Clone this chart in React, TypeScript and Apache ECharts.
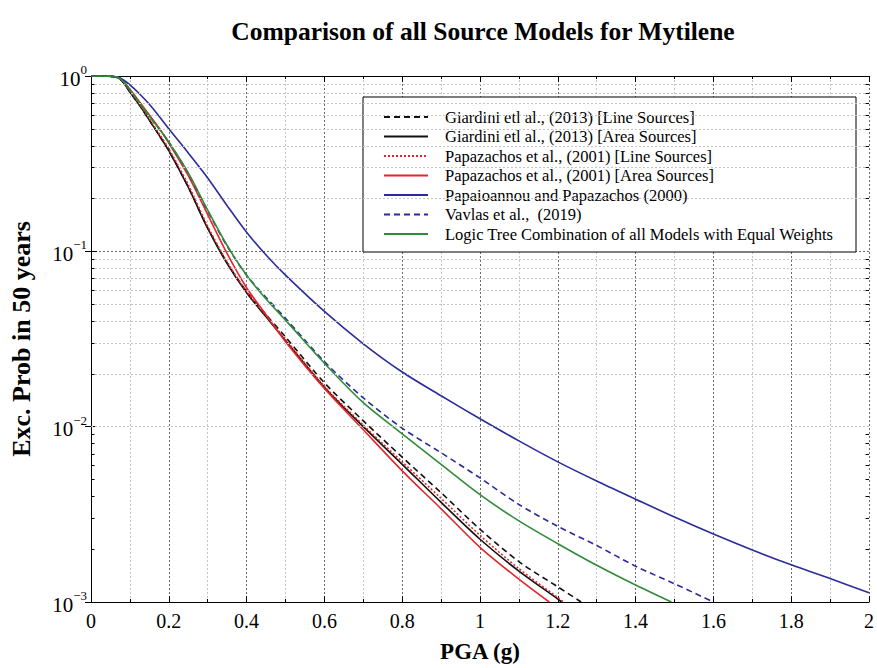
import React, { useEffect, useRef } from "react";
import * as echarts from "echarts";

const TITLE = "Comparison of all Source Models for Mytilene";
const X_NAME = "PGA (g)";
const Y_NAME = "Exc. Prob in 50 years";

const seriesNames = [
  "Giardini etl al., (2013) [Line Sources]",
  "Giardini etl al., (2013) [Area Sources]",
  "Papazachos et al., (2001) [Line Sources]",
  "Papazachos et al., (2001) [Area Sources]",
  "Papaioannou and Papazachos (2000)",
  "Vavlas et al.,  (2019)",
  "Logic Tree Combination of all Models with Equal Weights",
];

// Giardini line sources (black dashed)
const giardiniLinePga = [0, 0.05, 0.075, 0.1, 0.125, 0.15, 0.175, 0.2, 0.25, 0.3, 0.35, 0.4, 0.45, 0.5, 0.6, 0.7, 0.8, 0.9, 1.0, 1.1, 1.2, 1.26];
const giardiniLineProb = [1, 0.995, 0.96, 0.81, 0.68, 0.56, 0.46, 0.376, 0.233, 0.136, 0.086, 0.059, 0.0435, 0.0325, 0.0178, 0.0108, 0.0067, 0.0042, 0.0026, 0.0017, 0.00122, 0.001];

// Giardini area sources (black solid)
const giardiniAreaPga = [0, 0.05, 0.075, 0.1, 0.125, 0.15, 0.175, 0.2, 0.25, 0.3, 0.35, 0.4, 0.45, 0.5, 0.6, 0.7, 0.8, 0.9, 1.0, 1.1, 1.2, 1.21];
const giardiniAreaProb = [1, 0.995, 0.96, 0.81, 0.68, 0.56, 0.46, 0.375, 0.232, 0.135, 0.085, 0.058, 0.0423, 0.031, 0.0168, 0.01, 0.0061, 0.0037, 0.00228, 0.0015, 0.00104, 0.001];

// Papazachos line sources (red dotted)
const papazachosLinePga = [0, 0.05, 0.075, 0.1, 0.125, 0.15, 0.175, 0.2, 0.25, 0.3, 0.35, 0.4, 0.45, 0.5, 0.6, 0.7, 0.8, 0.9, 1.0, 1.1, 1.2, 1.215];
const papazachosLineProb = [1, 0.995, 0.965, 0.82, 0.69, 0.57, 0.47, 0.385, 0.24, 0.139, 0.087, 0.059, 0.043, 0.0315, 0.017, 0.0102, 0.0063, 0.0039, 0.0024, 0.00155, 0.00106, 0.001];

// Papazachos area sources (red solid)
const papazachosAreaPga = [0, 0.05, 0.075, 0.1, 0.125, 0.15, 0.175, 0.2, 0.25, 0.3, 0.35, 0.4, 0.45, 0.5, 0.6, 0.7, 0.8, 0.9, 1.0, 1.1, 1.178];
const papazachosAreaProb = [1, 0.996, 0.97, 0.84, 0.71, 0.6, 0.505, 0.415, 0.27, 0.162, 0.097, 0.062, 0.0435, 0.0305, 0.0165, 0.0096, 0.0056, 0.0034, 0.00205, 0.00135, 0.001];

// Papaioannou and Papazachos (blue solid)
const papaioannouPga = [0, 0.05, 0.075, 0.1, 0.125, 0.15, 0.175, 0.2, 0.25, 0.3, 0.35, 0.4, 0.45, 0.5, 0.6, 0.7, 0.8, 0.9, 1.0, 1.1, 1.2, 1.3, 1.4, 1.5, 1.6, 1.7, 1.8, 1.9, 2.0];
const papaioannouProb = [1, 0.997, 0.975, 0.89, 0.79, 0.69, 0.59, 0.5, 0.364, 0.262, 0.182, 0.1285, 0.0953, 0.0731, 0.0454, 0.0297, 0.0205, 0.015, 0.0111, 0.0083, 0.0063, 0.0049, 0.00386, 0.00305, 0.00244, 0.00198, 0.00163, 0.00136, 0.00113];

// Vavlas et al. (blue dashed)
const vavlasPga = [0, 0.05, 0.075, 0.1, 0.125, 0.15, 0.175, 0.2, 0.25, 0.3, 0.35, 0.4, 0.45, 0.5, 0.6, 0.7, 0.8, 0.9, 1.0, 1.1, 1.2, 1.3, 1.4, 1.5, 1.6];
const vavlasProb = [1, 0.996, 0.965, 0.83, 0.7, 0.59, 0.5, 0.42, 0.278, 0.17, 0.107, 0.073, 0.0545, 0.0415, 0.0235, 0.0146, 0.0098, 0.0071, 0.0051, 0.0036, 0.0027, 0.0021, 0.0016, 0.00127, 0.001];

// Logic tree (green)
const logicTreePga = [0, 0.05, 0.075, 0.1, 0.125, 0.15, 0.175, 0.2, 0.25, 0.3, 0.35, 0.4, 0.45, 0.5, 0.6, 0.7, 0.8, 0.9, 1.0, 1.1, 1.2, 1.3, 1.4, 1.492];
const logicTreeProb = [1, 0.996, 0.965, 0.83, 0.7, 0.59, 0.5, 0.42, 0.28, 0.172, 0.108, 0.073, 0.0535, 0.0405, 0.023, 0.0137, 0.0091, 0.0061, 0.0041, 0.0029, 0.00215, 0.00162, 0.00125, 0.001];

const minorProbTicks = [
  0.002, 0.003, 0.004, 0.005, 0.006, 0.007, 0.008, 0.009,
  0.02, 0.03, 0.04, 0.05, 0.06, 0.07, 0.08, 0.09,
  0.2, 0.3, 0.4, 0.5, 0.6, 0.7, 0.8, 0.9,
];

const FONT = "'Liberation Serif', 'Times New Roman', serif";
const BLACK = "#111111";
const RED = "#e3262b";
const BLUE = "#2b2b9b";
const GREEN = "#2f8c37";

const pairs = (xs: number[], ys: number[]) => xs.map((x, i) => [x, ys[i]]);

export default function App() {
  const ref = useRef<HTMLDivElement>(null);

  useEffect(() => {
    if (!ref.current) return;
    const chart = echarts.init(ref.current, undefined, { renderer: "svg" });

    const mkLine = (name: string, data: number[][], color: string, type: any) => ({
      name,
      type: "line",
      data,
      symbol: "none",
      smooth: 0.3,
      lineStyle: { color, width: 1.6, type },
      itemStyle: { color },
      z: 3,
    });

    const xAxisBase = {
      type: "value",
      min: 0,
      max: 2,
      interval: 0.2,
      axisLine: { show: true, lineStyle: { color: "#000", width: 1 } },
      axisTick: { show: true, inside: true, length: 6, lineStyle: { color: "#000" } },
      minorTick: { show: true, splitNumber: 2, length: 3, lineStyle: { color: "#000" } },
    };

    const yAxisBase = {
      type: "log",
      logBase: 10,
      min: 0.001,
      max: 1,
      axisLine: { show: true, lineStyle: { color: "#000", width: 1 } },
      axisTick: { show: true, inside: true, length: 6, lineStyle: { color: "#000" } },
    };

    const option: any = {
      animation: false,
      backgroundColor: "#fff",
      grid: { left: 90, right: 5, top: 76, bottom: 66, containLabel: false },
      graphic: [
        {
          type: "text",
          x: 483,
          y: 31,
          style: {
            text: TITLE,
            fontFamily: FONT,
            fontWeight: "bold",
            fontSize: 25.5,
            fill: "#000",
            textAlign: "center",
            textVerticalAlign: "middle",
          },
        },
        {
          type: "rect",
          z: 3,
          shape: { x: 363, y: 97, width: 493, height: 155 },
          style: { fill: "#fff", stroke: "#000", lineWidth: 1 },
        },
      ],
      legend: {
        data: seriesNames,
        orient: "vertical",
        left: 383,
        top: 108.5,
        padding: 0,
        itemWidth: 44,
        itemHeight: 14,
        itemGap: 2.5,
        selectedMode: false,
        z: 5,
        itemStyle: { color: "transparent", borderColor: "transparent", borderWidth: 0 },
        textStyle: {
          fontFamily: FONT,
          fontSize: 16.5,
          color: "#000",
          padding: [0, 0, 0, 12],
        },
      },
      xAxis: [
        {
          ...xAxisBase,
          position: "bottom",
          name: X_NAME,
          nameLocation: "middle",
          nameGap: 38,
          nameTextStyle: { fontFamily: FONT, fontWeight: "bold", fontSize: 23, color: "#000" },
          axisLabel: { fontFamily: FONT, fontSize: 20, color: "#000", margin: 9 },
          splitLine: { show: true, lineStyle: { color: "#6a6a6a", type: [2, 2], width: 1 } },
          minorSplitLine: { show: true, lineStyle: { color: "#c4c4c4", type: [2, 2], width: 1 } },
        },
        {
          ...xAxisBase,
          position: "top",
          axisLabel: { show: false },
          splitLine: { show: false },
        },
      ],
      yAxis: [
        {
          ...yAxisBase,
          position: "left",
          name: Y_NAME,
          nameLocation: "middle",
          nameGap: 57,
          nameTextStyle: { fontFamily: FONT, fontWeight: "bold", fontSize: 26, color: "#000" },
          axisLabel: {
            margin: 4,
            formatter: (v: number) => {
              const e = Math.round(Math.log10(v));
              const s = e === 0 ? "0" : "\u2212" + Math.abs(e);
              return `{b|10}{s|${s}}`;
            },
            rich: {
              b: { fontFamily: FONT, fontSize: 21, color: "#000", lineHeight: 26, verticalAlign: "bottom" },
              s: { fontFamily: FONT, fontSize: 13, color: "#000", lineHeight: 13, verticalAlign: "top" },
            },
          },
          splitLine: { show: true, lineStyle: { color: "#6a6a6a", type: [2, 2], width: 1 } },
        },
        {
          ...yAxisBase,
          position: "right",
          axisLabel: { show: false },
          splitLine: { show: false },
        },
      ],
      series: [
        {
          name: "_minorGrid",
          type: "line",
          data: [[0, 1]],
          symbol: "none",
          silent: true,
          lineStyle: { opacity: 0 },
          z: 1,
          markLine: {
            silent: true,
            symbol: "none",
            animation: false,
            label: { show: false },
            lineStyle: { color: "#c4c4c4", type: [2, 2], width: 1 },
            data: minorProbTicks.map((v) => ({ yAxis: v })),
          },
        },
        {
          name: "_minorTicks",
          type: "line",
          data: [[0, 1]],
          symbol: "none",
          silent: true,
          lineStyle: { opacity: 0 },
          z: 4,
          markLine: {
            silent: true,
            symbol: "none",
            animation: false,
            label: { show: false },
            lineStyle: { color: "#000", type: "solid", width: 1 },
            data: [
              ...minorProbTicks.map((v) => [{ coord: [0, v] }, { coord: [0.009, v] }]),
              ...minorProbTicks.map((v) => [{ coord: [2, v] }, { coord: [1.991, v] }]),
            ],
          },
        },
        mkLine(seriesNames[0], pairs(giardiniLinePga, giardiniLineProb), BLACK, [6, 4]),
        mkLine(seriesNames[1], pairs(giardiniAreaPga, giardiniAreaProb), BLACK, "solid"),
        mkLine(seriesNames[2], pairs(papazachosLinePga, papazachosLineProb), RED, [2, 2]),
        mkLine(seriesNames[3], pairs(papazachosAreaPga, papazachosAreaProb), RED, "solid"),
        mkLine(seriesNames[4], pairs(papaioannouPga, papaioannouProb), BLUE, "solid"),
        mkLine(seriesNames[5], pairs(vavlasPga, vavlasProb), BLUE, [6, 4]),
        mkLine(seriesNames[6], pairs(logicTreePga, logicTreeProb), GREEN, "solid"),
      ],
    };

    chart.setOption(option);
    return () => chart.dispose();
  }, []);

  return (
    <div
      ref={ref}
      style={{ position: "fixed", left: 0, top: 0, width: 877, height: 668, background: "#fff" }}
    />
  );
}
